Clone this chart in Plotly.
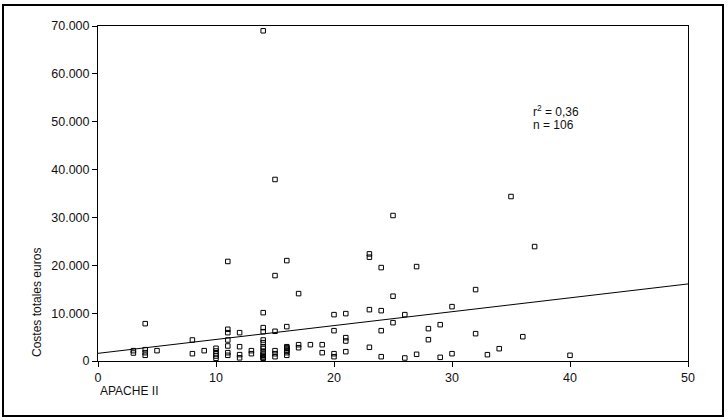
import plotly.graph_objects as go

# APACHE II score (x) and total cost in euros (y)
apache = [3, 3,
          4, 4, 4, 4,
          5,
          8, 8,
          9,
          10, 10, 10, 10, 10,
          11, 11, 11, 11, 11, 11, 11,
          12, 12, 12, 12,
          13, 13,
          14, 14, 14, 14, 14, 14, 14, 14, 14, 14, 14, 14, 14, 14,
          15, 15, 15, 15, 15, 15,
          16, 16, 16, 16, 16, 16, 16, 16, 16,
          17, 17, 17,
          18,
          19, 19,
          20, 20, 20, 20,
          21, 21, 21, 21,
          23, 23, 23, 23,
          24, 24, 24, 24,
          25, 25, 25,
          26, 26,
          27, 27,
          28, 28,
          29, 29,
          30, 30,
          32, 32,
          33,
          34,
          35,
          36,
          37,
          40]
costes = [2160, 1670,
          7800, 2370, 1740, 1190,
          2160,
          4390, 1530,
          2160,
          2660, 2090, 1530, 1050, 560,
          20800, 6630, 5920, 4390, 3140, 1740, 1190,
          5920, 2990, 1330, 660,
          2160, 1530,
          69000, 10100, 6970, 6130, 4390, 3830, 3000, 2600, 1950, 1460, 1200, 900, 700, 560,
          37930, 17850, 6210, 2160, 1530, 900,
          20980, 7180, 2990, 2800, 2600, 2300, 2100, 1740, 1190,
          14080, 3410, 2780,
          3410,
          3410, 1740,
          9690, 6340, 1530, 900,
          9900, 4880, 4180, 1950,
          22380, 21690, 10730, 2860,
          19520, 10520, 6340, 900,
          30400, 13540, 8010,
          9690, 630,
          19730, 1400,
          6760, 4460,
          7590, 770,
          11360, 1530,
          14920, 5710,
          1320,
          2570,
          34370,
          5080,
          23910,
          1190]

# Fitted regression line
fit_intercept = 1600
fit_slope = 290
fit_x = [0, 50]
fit_y = [fit_intercept + fit_slope * v for v in fit_x]

x_ticks = [0, 10, 20, 30, 40, 50]
y_ticks = [0, 10000, 20000, 30000, 40000, 50000, 60000, 70000]

FONT = "Liberation Sans, Arial, sans-serif"
TXT = "#111"

fig = go.Figure()
fig.add_trace(go.Scatter(
    x=apache, y=costes, mode="markers",
    marker=dict(symbol="square-open", size=4.5, color="black",
                line=dict(width=1, color="black")),
    showlegend=False, hoverinfo="x+y"))
fig.add_trace(go.Scatter(
    x=fit_x, y=fit_y, mode="lines",
    line=dict(color="black", width=1), showlegend=False))

fig.update_layout(
    width=728, height=420,
    margin=dict(l=98, r=40, t=26, b=59, pad=0),
    paper_bgcolor="white", plot_bgcolor="white",
    separators=",.",
    font=dict(family=FONT, size=12, color=TXT),
    xaxis=dict(range=[0, 50], tickvals=x_ticks, showgrid=False, zeroline=False,
               showline=True, linecolor="black", linewidth=1, mirror=True,
               ticks="outside", ticklen=5, tickcolor="black",
               tickfont=dict(family=FONT, size=12.5, color=TXT)),
    yaxis=dict(range=[0, 70000], tickvals=y_ticks, tickformat=",d",
               showgrid=False, zeroline=False,
               showline=True, linecolor="black", linewidth=1, mirror=True,
               ticks="outside", ticklen=5, tickcolor="black",
               tickfont=dict(family=FONT, size=12.5, color=TXT)),
)

# Outer frame
fig.add_shape(type="rect", xref="paper", yref="paper",
              x0=(3 - 98) / 590, x1=(723 - 98) / 590,
              y0=(361 - 416) / 335, y1=(361 - 5) / 335,
              line=dict(color="black", width=2), fillcolor="rgba(0,0,0,0)")

fig.add_annotation(text="APACHE II", xref="paper", yref="paper",
                   x=0, y=(361 - 391) / 335, xanchor="left", yanchor="middle",
                   showarrow=False, font=dict(family=FONT, size=12, color=TXT))
fig.add_annotation(text="Costes totales euros", xref="paper", yref="paper",
                   x=(37 - 98) / 590, y=(361 - 303) / 335, textangle=-90,
                   xanchor="center", yanchor="middle",
                   showarrow=False, font=dict(family=FONT, size=12, color=TXT))
fig.add_annotation(text="r<sup>2</sup> = 0,36", xref="paper", yref="paper",
                   x=(531 - 98) / 590, y=(361 - 111) / 335, xanchor="left", yanchor="middle",
                   showarrow=False, font=dict(family=FONT, size=12, color=TXT))
fig.add_annotation(text="n = 106", xref="paper", yref="paper",
                   x=(531 - 98) / 590, y=(361 - 125) / 335, xanchor="left", yanchor="middle",
                   showarrow=False, font=dict(family=FONT, size=12, color=TXT))

fig.write_html("out.html", config={"displayModeBar": False},
               post_script="document.body.style.margin='0';")
